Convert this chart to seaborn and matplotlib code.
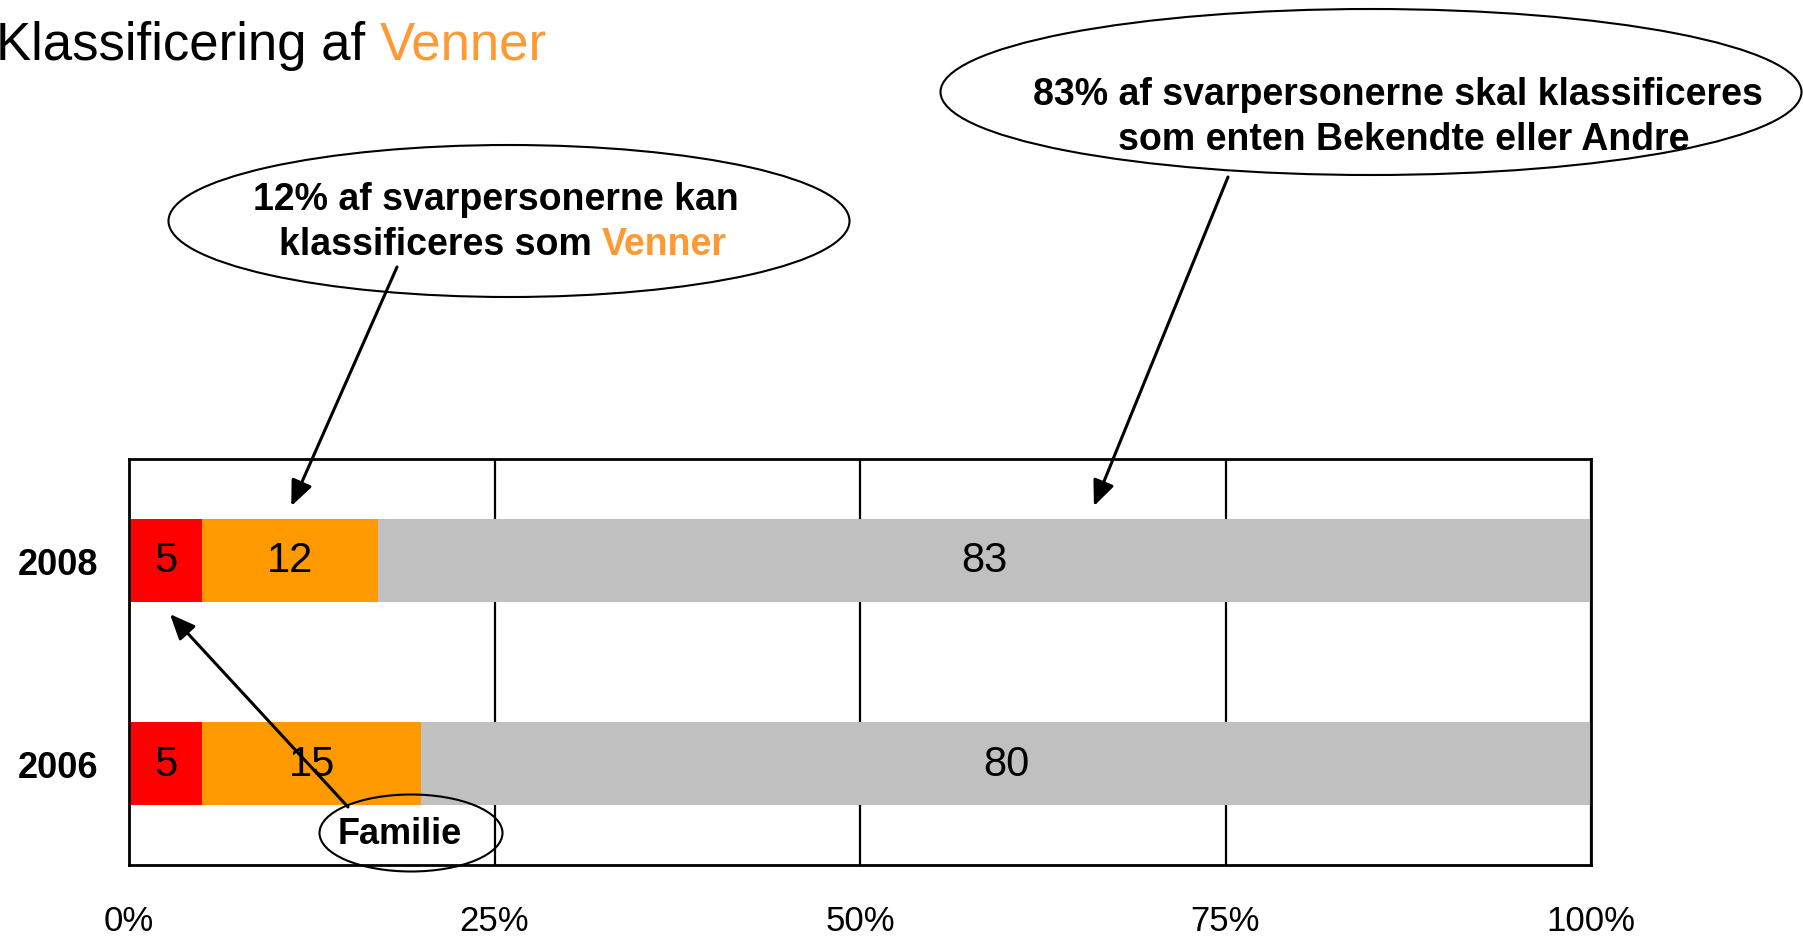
import numpy as np
import pandas as pd
import matplotlib
matplotlib.use("Agg")
import matplotlib.pyplot as plt
from matplotlib.patches import Ellipse
import seaborn as sns

# data (percent of respondents)
years = ["2008", "2006"]
familie = [5, 5]
venner = [12, 15]
andre = [83, 80]
tick_vals = [0, 25, 50, 75, 100]
tick_labels = ["0%", "25%", "50%", "75%", "100%"]

RED = "#FF0000"
ORANGE = "#FF9900"
GRAY = "#C0C0C0"
TXT_ORANGE = "#FF9933"

sns.set_theme(style="white")
plt.rcParams["font.family"] = ["Liberation Sans", "DejaVu Sans"]
plt.rcParams["text.color"] = "black"
plt.rcParams["xtick.color"] = "black"
plt.rcParams["ytick.color"] = "black"

df = pd.DataFrame({"year": years, "familie": familie,
                   "venner": venner, "andre": andre})
df["c1"] = df["familie"]
df["c2"] = df["familie"] + df["venner"]
df["c3"] = df["c2"] + df["andre"]

W, H = 1803, 937
fig = plt.figure(figsize=(W / 100, H / 100), dpi=100)
ax = fig.add_axes([129 / W, 1 - 866 / H, 1462 / W, 406 / H])

# stacked bars: draw cumulative totals, largest first
for col, color in [("c3", GRAY), ("c2", ORANGE), ("c1", RED)]:
    sns.barplot(data=df, x=col, y="year", order=years, color=color,
                saturation=1, width=0.41, linewidth=0, ax=ax)

# segment labels
for i, row in df.iterrows():
    starts = [0, row["c1"], row["c2"]]
    vals = [row["familie"], row["venner"], row["andre"]]
    for s, v in zip(starts, vals):
        ax.text(s + v / 2, i, f"{v}", ha="center", va="center",
                fontsize=30, color="black")

ax.set_xlim(0, 100)
ax.set_ylim(1.5, -0.5)
ax.set_xticks(tick_vals)
ax.set_xticklabels(tick_labels, fontsize=25)
ax.set_yticks(range(len(years)))
ax.set_yticklabels(years, fontsize=26, fontweight="bold")
ax.tick_params(axis="x", length=0, pad=28)
ax.tick_params(axis="y", length=0, pad=22)
ax.set_xlabel("")
ax.set_ylabel("")
ax.grid(axis="x", color="black", linewidth=1.6)
ax.grid(axis="y", visible=False)
ax.set_axisbelow(True)
for sp in ax.spines.values():
    sp.set_color("black")
    sp.set_linewidth(2)


def px(x, y):
    """pixel position (top-left origin) -> figure fraction"""
    return (x / W, 1 - y / H)


# title with coloured word
t = fig.text(*px(-4, 60), "Klassificering af ", fontsize=38,
             ha="left", va="baseline", color="black")
ax.annotate("Venner", xy=(1, 0), xycoords=t, ha="left", va="bottom",
            fontsize=38, color=TXT_ORANGE, annotation_clip=False)

# callout ellipses
for (cx, cy, w, h) in [(509, 222, 681, 152), (1371, 93, 861, 166),
                       (411, 834, 183, 77)]:
    e = Ellipse(px(cx, cy), w / W, h / H, transform=fig.transFigure,
                facecolor="none", edgecolor="black", linewidth=1.5,
                zorder=5)
    fig.patches.append(e)

fig.text(*px(496, 200), "12% af svarpersonerne kan", fontsize=27,
         fontweight="bold", ha="center", va="center")
t2 = fig.text(*px(279, 245), "klassificeres som ", fontsize=27,
              fontweight="bold", ha="left", va="center")
ax.annotate("Venner", xy=(1, 0), xycoords=t2, ha="left", va="bottom",
            fontsize=27, fontweight="bold", color=TXT_ORANGE,
            annotation_clip=False)

fig.text(*px(1398, 95), "83% af svarpersonerne skal klassificeres",
         fontsize=27, fontweight="bold", ha="center", va="center")
fig.text(*px(1404, 140), "som enten Bekendte eller Andre",
         fontsize=27, fontweight="bold", ha="center", va="center")
fig.text(*px(400, 835), "Familie", fontsize=26, fontweight="bold",
         ha="center", va="center", zorder=6)

# arrows: tip in data coords, tail in figure fraction
arrow_kw = dict(arrowstyle="-|>,head_length=0.7,head_width=0.3",
                color="black", lw=2.2, shrinkA=0, shrinkB=0,
                mutation_scale=22)
for tip, tail in [((11.1, -0.268), (397, 268)),
                  ((66.0, -0.268), (1228, 178)),
                  ((2.8, 0.264), (348, 808))]:
    ax.annotate("", xy=tip, xycoords="data",
                xytext=px(*tail), textcoords="figure fraction",
                arrowprops=arrow_kw, annotation_clip=False)

fig.savefig("out.png", dpi=100)
